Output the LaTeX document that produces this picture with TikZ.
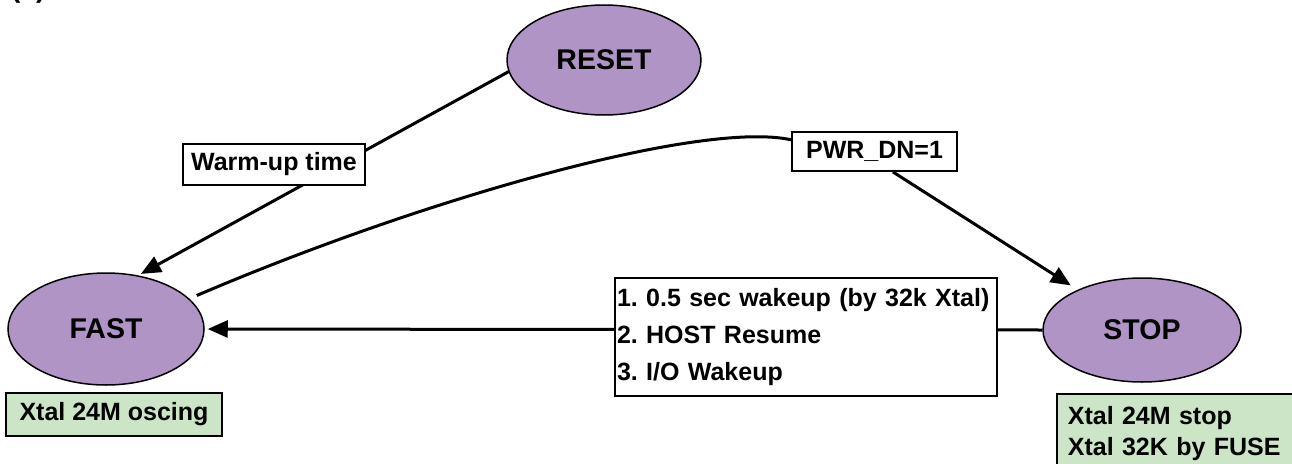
\documentclass[tikz,border=0pt]{standalone}
\usepackage{fontspec}
\setmainfont{Liberation Sans}
\usetikzlibrary{arrows.meta,shapes.geometric}
\definecolor{statefill}{HTML}{B194C6}
\definecolor{notefill}{HTML}{CCE5C7}
\frenchspacing
\begin{document}
\begin{tikzpicture}[x=1pt,y=-1pt,
  state/.style={ellipse,draw,line width=1.5pt,fill=statefill,inner sep=0pt,font=\fontsize{28.5}{34}\selectfont\bfseries},
  lbl/.style={rectangle,draw,line width=1.8pt,fill=white,inner sep=0pt,font=\fontsize{25}{30}\selectfont\bfseries},
  note/.style={rectangle,draw,line width=1.8pt,fill=notefill,inner sep=0pt,font=\fontsize{25}{30}\selectfont\bfseries},
  conn/.style={line width=3pt},
  arrow/.style={conn,-{Triangle[length=20pt,width=17pt]}}]
\useasboundingbox (0,0) rectangle (1292,463);
\clip (0,0) rectangle (1292,463);
\node[anchor=base west,inner sep=0pt,font=\fontsize{28}{34}\selectfont\bfseries] (tag) at (11,-2) {(a)};
\node[state,minimum width=194pt,minimum height=110pt] (reset) at (604,60) {RESET};
\node[state,minimum width=196pt,minimum height=112pt] (fast) at (106,329) {FAST};
\node[state,minimum width=198pt,minimum height=104pt] (stop) at (1142,330) {STOP};
\draw[arrow,shorten >=3pt] (reset.187) -- (fast.59);
\draw[arrow,shorten >=3pt] (stop.west) -- (fast.east);
\node[lbl,minimum width=182pt,minimum height=41pt] (warm) at (274,164.5) {Warm-up time};
\node[lbl,minimum width=165pt,minimum height=39pt] (pwr) at (874.5,151.5) {PWR\_DN=1};
\node[lbl,minimum width=382pt,minimum height=118pt,align=left,text width=378pt,font=\fontsize{25}{37}\selectfont\bfseries\frenchspacing] (wake) at (806,337) {1. 0.5 sec wakeup (by 32k Xtal)\\2. HOST Resume\\3. I/O Wakeup};
\draw[conn,shorten <=8pt] (fast.20) .. controls (420,200) and (700,120) .. (pwr.172);
\draw[arrow,shorten >=8pt] (pwr.-48) -- (stop.148);
\node[note,minimum width=216pt,minimum height=43pt] (fastnote) at (114,414.5) {Xtal 24M oscing};
\node[note,anchor=north west,align=left,text width=230pt,inner xsep=11pt,inner ysep=12pt,font=\fontsize{25}{31}\selectfont\bfseries] (stopnote) at (1056,393) {Xtal 24M stop\\Xtal 32K by FUSE};
\end{tikzpicture}
\end{document}
